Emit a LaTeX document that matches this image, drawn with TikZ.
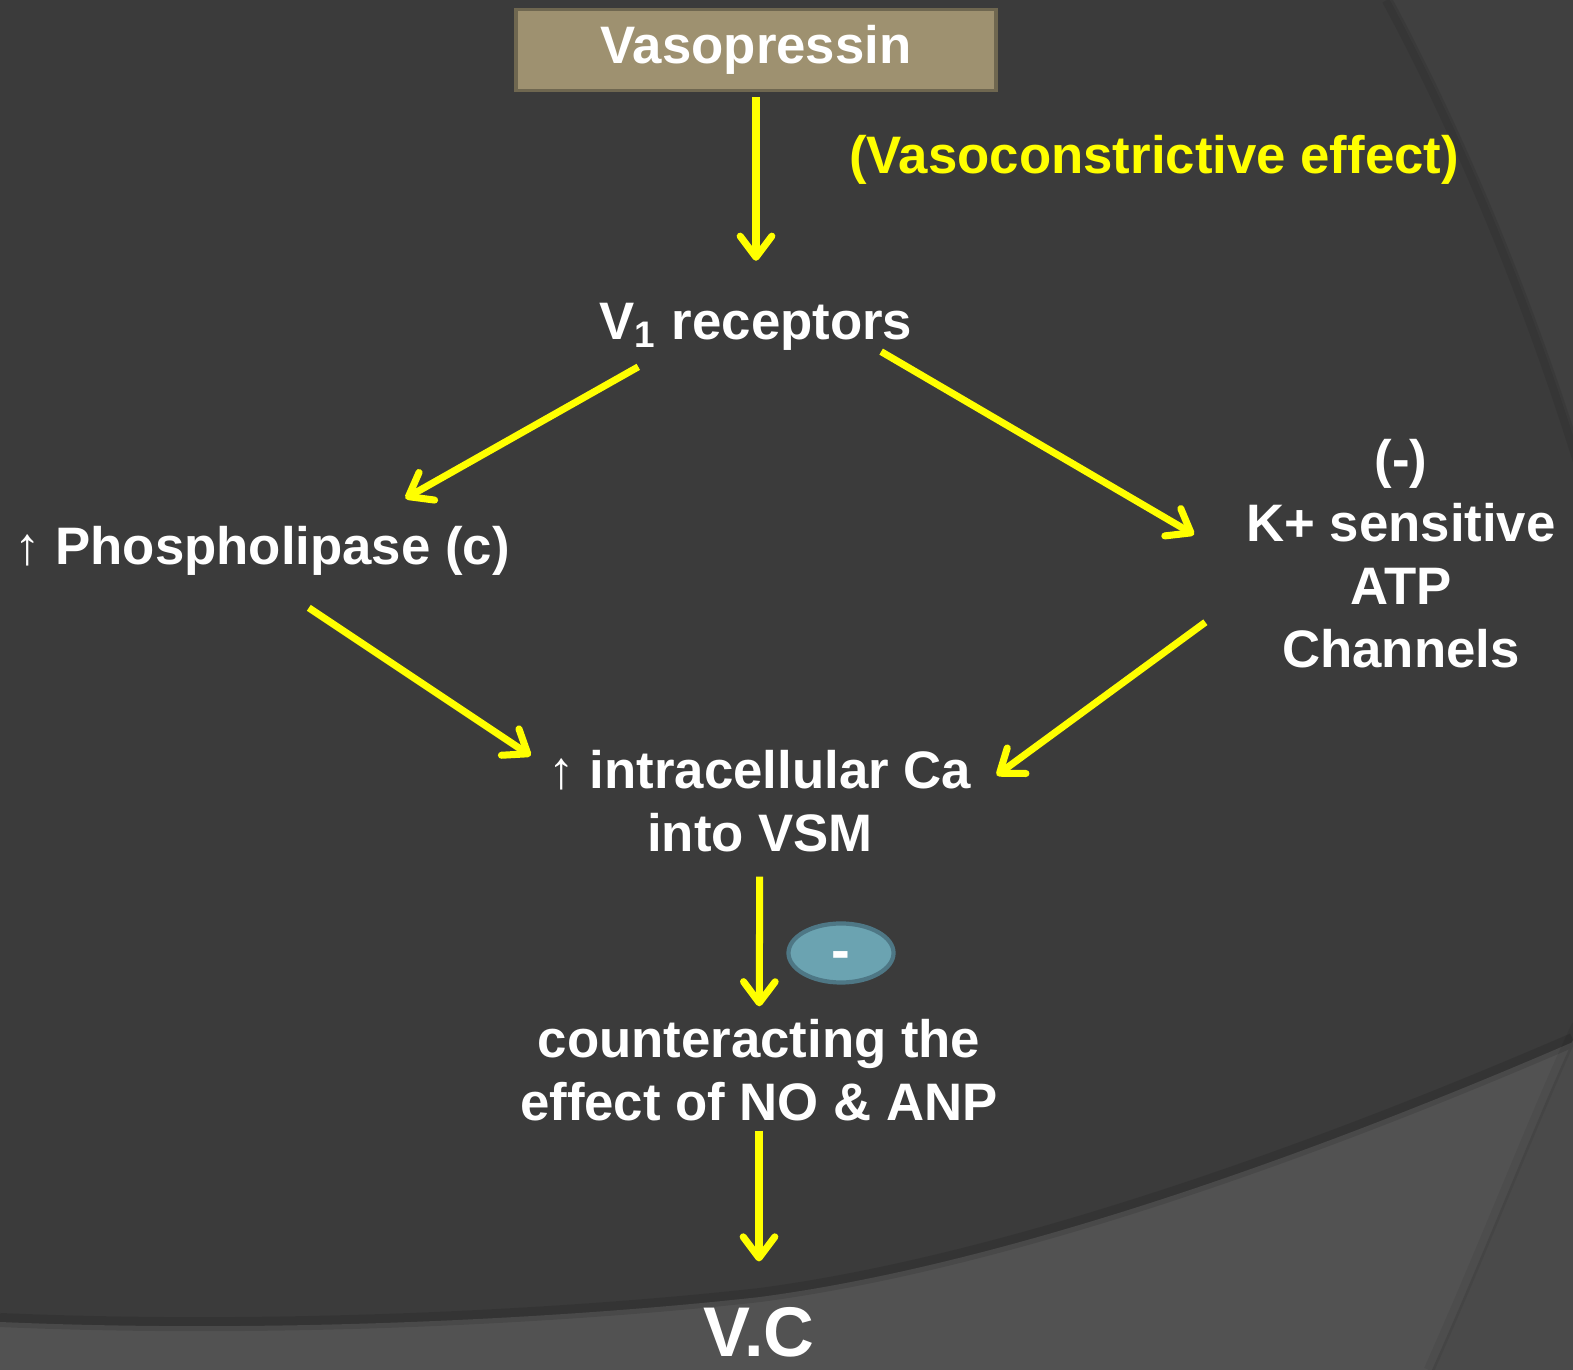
\documentclass[tikz,border=0pt]{standalone}
\usepackage{fontspec}
\setmainfont{Liberation Sans}
\usetikzlibrary{arrows.meta,shapes.geometric}
\definecolor{SlideGray}{HTML}{3B3B3B}
\definecolor{SlideLight}{HTML}{404040}
\definecolor{SlideFloor}{HTML}{525252}
\definecolor{SlideCorner}{HTML}{4A4A4A}
\definecolor{BoxTan}{HTML}{9E9170}
\definecolor{BoxEdge}{HTML}{6F6750}
\definecolor{FlowYellow}{HTML}{FFFF00}
\definecolor{MinusBlue}{HTML}{6BA3B1}
\definecolor{MinusEdge}{HTML}{4E7785}

\begin{document}
\begin{tikzpicture}[x=0.01cm,y=0.01cm,
   txt/.style={text=white,font=\fontsize{15}{18}\selectfont\bfseries,inner sep=0pt,align=center},
   flow/.style={draw=FlowYellow,line width=2pt,-{Straight Barb[length=6pt,width=9pt,line cap=round,line join=round]}}]
   \useasboundingbox (0,0) rectangle (1573,1370);
   \fill[SlideGray] (0,0) rectangle (1573,1370);
   \begin{scope}
      \clip (0,0) rectangle (1573,1370);
      \fill[SlideLight] (1390,1370) .. controls (1455,1250) and (1530,1080) .. (1590,880) -- (1600,1370) -- cycle;
      \draw[black,opacity=.08,line width=3pt] (1387,1370) .. controls (1452,1250) and (1527,1080) .. (1587,880);
      \fill[SlideFloor] (0,48) .. controls (300,35) and (600,55) .. (760,73) .. controls (1000,105) and (1300,210) .. (1573,328) -- (1573,0) -- (0,0) -- cycle;
      \draw[black,opacity=.1,line width=4pt] (0,50) .. controls (300,37) and (600,57) .. (760,75) .. controls (1000,107) and (1300,212) .. (1573,330);
      \fill[SlideCorner] (1432,0) .. controls (1490,130) and (1540,260) .. (1580,345) -- (1580,0) -- cycle;
      \draw[black,opacity=.06,line width=3pt] (1429,0) .. controls (1487,130) and (1537,260) .. (1577,345);
   \end{scope}

   \node[txt,draw=BoxEdge,fill=BoxTan,line width=1.1pt,minimum width=4.8cm,minimum height=0.81cm] (vaso) at (756,1320) {Vasopressin};
   \node[txt,text=FlowYellow,anchor=base] (effect) at (1154,1196) {(Vasoconstrictive effect)};
   \node[txt,anchor=base] (v1) at (756,1030) {V\textsubscript{1} receptors};
   \node[txt,anchor=base] (phos) at (262,805) {{\mdseries ↑} Phospholipase (c)};
   \node[txt] (katp) at (1401,816) {(-)\\K+ sensitive\\ATP\\Channels};
   \node[txt] (ca) at (760,569) {{\mdseries ↑} intracellular Ca\\into VSM};
   \node[ellipse,draw=MinusEdge,fill=MinusBlue,line width=1.2pt,minimum width=1.05cm,minimum height=0.59cm,inner sep=0pt,text height=0pt,text depth=0pt,text=white,font=\fontsize{16}{18}\selectfont\bfseries] (minus) at (841,417) {\raisebox{-4.8pt}{-}};
   \node[txt] (counter) at (759,300) {counteracting the\\effect of NO \& ANP};
   \node[txt,font=\fontsize{20}{24}\selectfont\bfseries,anchor=base] (vc) at (759,13) {V.C};

   \foreach \from/\to/\gapa/\gapb in {vaso/v1/1.4pt/12pt,ca/counter/6.8pt/3.4pt,counter/vc/2.6pt/13pt}
      \draw[flow,shorten <=\gapa,shorten >=\gapb] (\from) -- (\to);
   \draw[flow,shorten <=8.8pt,shorten >=16pt] (v1.195) -- (phos.15.5);
   \draw[flow,shorten >=17pt] (v1.349) -- (katp.184.8);
   \draw[flow,shorten <=16pt,shorten >=6pt] (phos.south) -- (ca.171.3);
   \draw[flow,shorten <=14.2pt,shorten >=8.8pt] (katp.194.8) -- (ca.2.5);
\end{tikzpicture}
\end{document}
